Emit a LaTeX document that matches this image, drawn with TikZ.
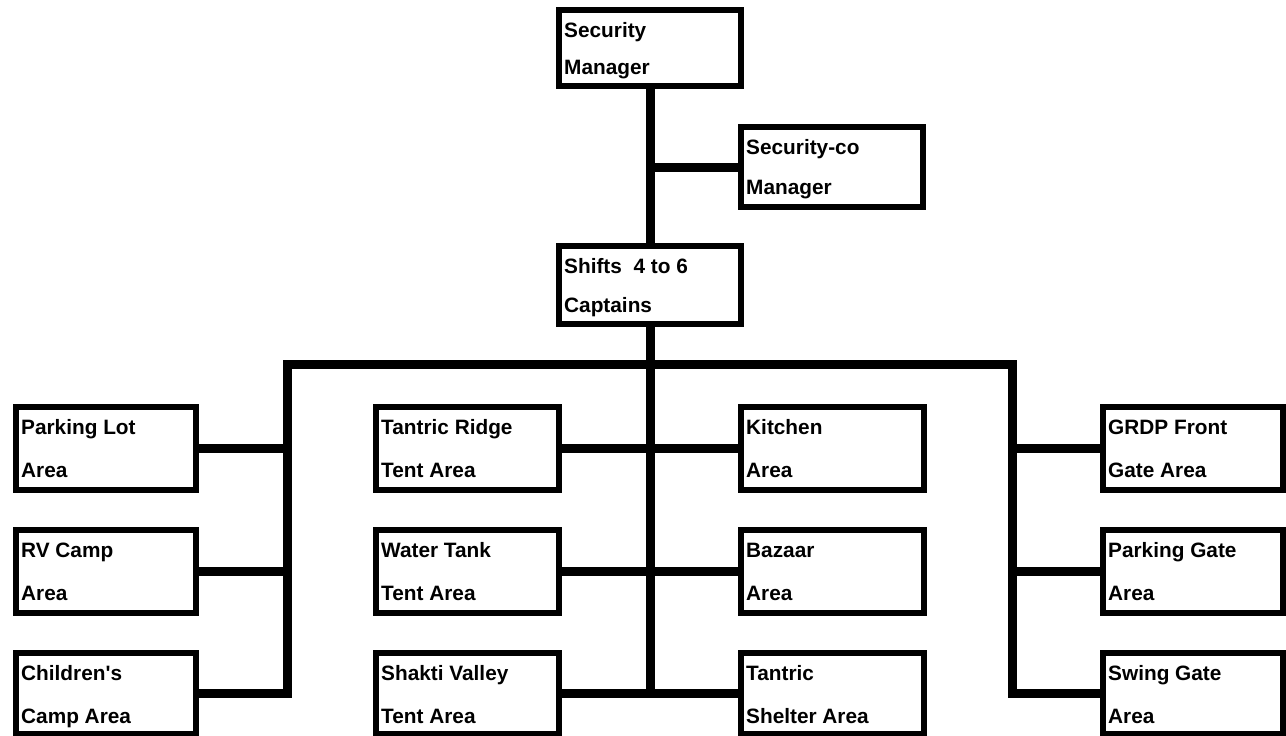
\documentclass[tikz,border=0pt]{standalone}
\usepackage{fontspec}
\setmainfont{Liberation Sans}
\begin{document}
\begin{tikzpicture}[x=1pt,y=-1pt,
  box/.style={draw=black,line width=6pt,rectangle,inner sep=0pt,outer sep=0pt,anchor=north west,fill=white},
  txt/.style={anchor=base west,inner sep=0pt,font=\fontsize{20.8}{24}\selectfont\bfseries},
  conn/.style={draw=black,line width=9pt,line join=miter,line cap=butt}]
\useasboundingbox[fill=white] (0,0) rectangle (1286,736);
% #1 name, #2 x, #3 y (outer top-left), #4 w, #5 h (outer), #6 line1, #7 line2, #8 offset of line 2
\newcommand\orgbox[8]{%
  \node[box,minimum width={#4-6},minimum height={#5-6}] (#1) at (#2+3,#3+3) {};
  \node[txt] (#1a) at (#2+8,#3+30) {#6};
  \node[txt] (#1b) at (#2+8,#3+#8) {#7};
}
\coordinate (bl) at (287.5,364.5);
\coordinate (br) at (1012.5,364.5);
\coordinate (tc) at (650.5,364.5);
\orgbox{sm}{556}{7}{188}{82}{Security}{Manager}{67}
\orgbox{co}{738}{124}{188}{86}{Security-co}{Manager}{70}
\orgbox{sh}{556}{243}{188}{84}{Shifts~ 4 to 6}{Captains}{69}
\orgbox{pl}{13}{404}{186}{89}{Parking Lot}{Area}{73}
\orgbox{rv}{13}{527}{186}{89}{RV Camp}{Area}{73}
\orgbox{cc}{13}{650}{186}{87}{Children\textquotesingle s}{Camp Area}{73}
\orgbox{tr}{373}{404}{189}{89}{Tantric Ridge}{Tent Area}{73}
\orgbox{wt}{373}{527}{189}{89}{Water Tank}{Tent Area}{73}
\orgbox{sv}{373}{650}{189}{87}{Shakti Valley}{Tent Area}{73}
\orgbox{ki}{738}{404}{189}{89}{Kitchen}{Area}{73}
\orgbox{bz}{738}{527}{189}{89}{Bazaar}{Area}{73}
\orgbox{ts}{738}{650}{189}{87}{Tantric}{Shelter Area}{73}
\orgbox{gf}{1100}{404}{186}{89}{GRDP Front}{Gate Area}{73}
\orgbox{pg}{1100}{527}{186}{89}{Parking Gate}{Area}{73}
\orgbox{sg}{1100}{650}{186}{87}{Swing Gate}{Area}{73}
\coordinate (tb) at (650.5,692.5);
% connectors
\draw[conn] (sm.south -| tc) -- (sh.north -| tc);
\draw[conn] (co.west) -- (co.west -| tc);
\draw[conn] (sh.south -| tc) -- (tb);
\draw[conn] (cc.east) -- (cc.east -| bl) -- (bl) -- (br) -- (br |- sg.west) -- (sg.west);
\draw[conn] (pl.east) -- (pl.east -| bl);
\draw[conn] (rv.east) -- (rv.east -| bl);
\draw[conn] (gf.west) -- (gf.west -| br);
\draw[conn] (pg.west) -- (pg.west -| br);
\draw[conn] (tr.east) -- (ki.west);
\draw[conn] (wt.east) -- (bz.west);
\draw[conn] (sv.east) -- (ts.west);
\end{tikzpicture}
\end{document}
